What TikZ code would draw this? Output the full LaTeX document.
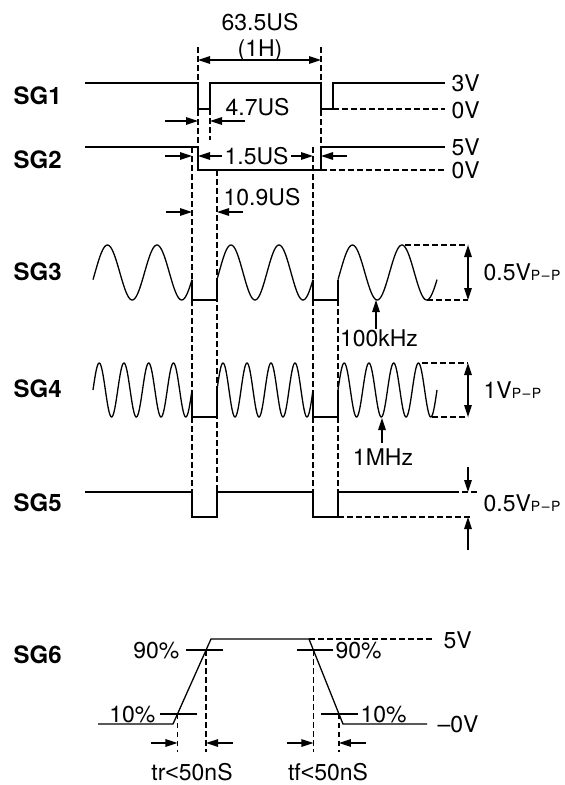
\documentclass[tikz,border=0pt]{standalone}
\usepackage{fontspec}
\setmainfont{TeX Gyre Heros}
\newfontfamily\lsans{Liberation Sans}
\usetikzlibrary{arrows.meta, calc}
\newcommand{\ppsub}{{\fontsize{14}{14}\selectfont P\kern1.5pt--\kern1.5pt P}}
\newcommand{\lessthan}{{\lsans<}}

\begin{document}
\begin{tikzpicture}[x=1pt, y=-1pt, line width=1.3pt,
    lbl/.style={inner sep=0pt, text height=16.5pt, text depth=0pt, font=\fontsize{23}{26}\selectfont},
    sig/.style={lbl, font=\fontsize{24}{26}\selectfont\bfseries},
    guide/.style={line width=1.25pt, dash pattern=on 5.5pt off 3.5pt},
    dim/.style={-{Triangle[length=12pt,width=7.5pt]}},
    both/.style={{Triangle[length=12pt,width=7.5pt]}-{Triangle[length=12pt,width=7.5pt]}}]
    \useasboundingbox (0,0) rectangle (565,785);

    % signal names
    \node[sig, anchor=west] (sg1) at (13,96) {SG1};
    \node[sig, anchor=west] (sg2) at (13,160) {SG2};
    \node[sig, anchor=west] (sg3) at (13,272) {SG3};
    \node[sig, anchor=west] (sg4) at (13,389) {SG4};
    \node[sig, anchor=west] (sg5) at (13,503) {SG5};
    \node[sig, anchor=west] (sg6) at (13,655) {SG6};

    % timing labels
    \node[lbl] (period) at (260,22) {63.5US};
    \node[lbl] (hline) at (260,48) {(1H)};
    \node[lbl, anchor=west] (sync) at (225,107) {4.7US};
    \node[lbl, anchor=west] (porch) at (224,156) {1.5US};
    \node[lbl, anchor=west] (blank) at (223,197) {10.9US};

    % levels
    \node[lbl, anchor=west] (v3) at (451,83) {3V};
    \node[lbl, anchor=west] (v0a) at (451,110) {0V};
    \node[lbl, anchor=west] (v5) at (451,147) {5V};
    \node[lbl, anchor=west] (v0b) at (451,170) {0V};
    \node[lbl, anchor=west] (pp3) at (483,272) {0.5V\ppsub};
    \node[lbl, anchor=west] (pp4) at (483,390) {1V\ppsub};
    \node[lbl, anchor=west] (pp5) at (483,503) {0.5V\ppsub};
    \node[lbl] (khz) at (379,338) {100kHz};
    \node[lbl] (mhz) at (383,457) {1MHz};

    % SG1 and SG2
    \draw (85,83) -- (198,83) -- (198,109) -- (210,109) -- (210,83) -- (321,83)
        -- (321,109) -- (333,109) -- (333,83) -- (445,83);
    \draw[guide] (333,109) -- (445,109);
    \draw (85,147) -- (198,147) -- (198,170) -- (321,170) -- (321,147) -- (445,147);
    \draw[guide] (321,170) -- (445,170);

    % guide lines
    \draw[guide] (198,47) -- (198,147);
    \draw[guide] (321,47) -- (321,147);
    \draw[guide] (210,109) -- (210,140);
    \draw[guide] (192,147) -- (192,492);
    \draw[guide] (217,170) -- (217,492);
    \draw[guide] (313,147) -- (313,492);
    \draw[guide] (338,300) -- (338,492);

    % dimensions
    \draw[both] (198,60) -- (321,60);
    \draw[dim] (165,121) -- (198,121);
    \draw[dim] (245,121) -- (210,121);
    \draw[dim] (165,156) -- (192,156);
    \draw[dim] ([xshift=-2pt]porch.west) -- (198,156);
    \draw[dim] ([xshift=2pt]porch.east) -- (313,156);
    \draw[dim] (347,156) -- (321,156);
    \draw[dim] (166,212) -- (192,212);
    \draw[dim] (243,212) -- (217,212);

    % SG3
    \foreach \xs/\xe in {93/192, 217/313, 338/437}
        \draw plot[domain=\xs:\xe, samples=90, smooth]
            (\x, {272.5 - 27.5*sin(720*((\x-\xe)/(\xe-\xs)) - 15)});
    \draw (192,{272.5+27.5*sin(15)}) -- (192,300) -- (217,300) -- (217,{272.5+27.5*sin(15)});
    \draw (313,{272.5+27.5*sin(15)}) -- (313,300) -- (338,300) -- (338,{272.5+27.5*sin(15)});
    \draw[guide] (405,245) -- (468,245);
    \draw[guide] (427,300) -- (468,300);
    \draw[both] (468,245) -- (468,300);
    \coordinate (dip3) at (376,300);
    \draw[dim] ([xshift=-3pt]khz.north) -- (dip3);

    % SG4
    \foreach \xs/\xe in {93/192, 217/313, 338/437}
        \draw plot[domain=\xs:\xe, samples=160, smooth]
            (\x, {390 - 27*sin(1440*((\x-\xe)/(\xe-\xs)))});
    \draw (192,390) -- (192,417) -- (217,417) -- (217,390);
    \draw (313,390) -- (313,417) -- (338,417) -- (338,390);
    \draw[guide] (422,363) -- (468,363);
    \draw[guide] (432,417) -- (468,417);
    \draw[both] (468,363) -- (468,417);
    \coordinate (dip4) at (382,418);
    \draw[dim] ([xshift=-1pt, yshift=5pt]mhz.north) -- (dip4);

    % SG5
    \draw (85,492) -- (192,492) -- (192,517) -- (217,517) -- (217,492) -- (313,492)
        -- (313,517) -- (338,517) -- (338,492) -- (453,492);
    \draw[guide] (453,492) -- (478,492);
    \draw[guide] (338,517) -- (472,517);
    \draw[dim] (468,467) -- (468,492);
    \draw[dim] (468,550) -- (468,517);

    % SG6
    \coordinate (r0) at (173,724);
    \coordinate (r1) at (211,639);
    \coordinate (f0) at (309,639);
    \coordinate (f1) at (343,724);
    \coordinate (rise10) at ($(r0)!0.118!(r1)$);
    \coordinate (rise90) at ($(r0)!0.87!(r1)$);
    \coordinate (fall90) at ($(f0)!0.13!(f1)$);
    \coordinate (fall10) at ($(f0)!0.882!(f1)$);
    \draw (98,724) -- (r0) -- (r1) -- (f0) -- (f1) -- (427,724);
    \draw[guide] (f0) -- (432,639);

    \draw ([xshift=-20pt]rise90) -- ([xshift=17pt]rise90);
    \draw ([xshift=-17.5pt]rise10) -- ([xshift=19.5pt]rise10);
    \draw ([xshift=-16pt]fall90) -- ([xshift=20pt]fall90);
    \draw ([xshift=-18pt]fall10) -- ([xshift=19pt]fall10);
    \node[lbl, anchor=east] (lr90) at (180,650) {90\%};
    \node[lbl, anchor=west] (lf90) at (335,650) {90\%};
    \node[lbl, anchor=east] (lr10) at (156,714) {10\%};
    \node[lbl, anchor=west] (lf10) at (360,714) {10\%};
    \node[lbl, anchor=west] (v5c) at (443,640) {5V};
    \node[lbl, anchor=west] (v0c) at (437,724) {--0V};

    \draw[guide] (rise10) -- (rise10 |- 0,752);
    \draw[guide] (rise90) -- (rise90 |- 0,752);
    \draw[guide] (fall90) -- (fall90 |- 0,752);
    \draw[guide] (fall10) -- (fall10 |- 0,752);
    \draw[dim] (151,743) -- (rise10 |- 0,743);
    \draw[dim] (233,743) -- (rise90 |- 0,743);
    \draw[dim] (287,743) -- (fall90 |- 0,743);
    \draw[dim] (366,743) -- (fall10 |- 0,743);
    \node[lbl] (tr) at (192,772) {tr\lessthan50nS};
    \node[lbl] (tf) at (328,772) {tf\lessthan50nS};
\end{tikzpicture}
\end{document}
